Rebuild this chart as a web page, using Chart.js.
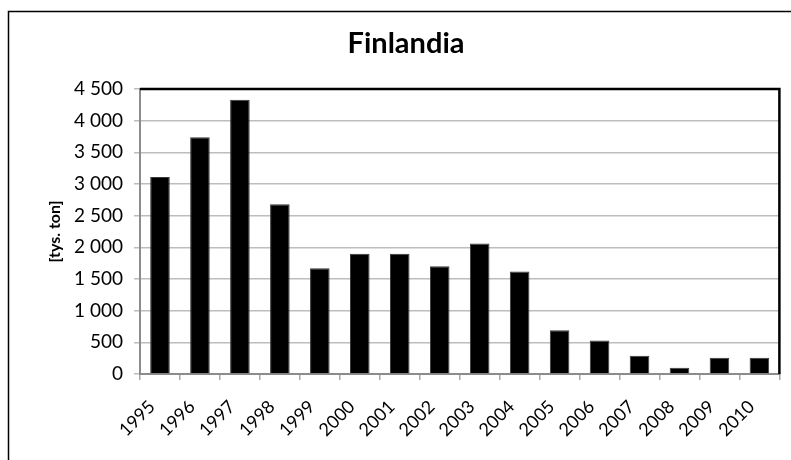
<!DOCTYPE html>
<html lang="pl">
<head>
  <meta charset="UTF-8" />
  <title>Finlandia</title>
  <script src="https://cdn.jsdelivr.net/npm/chart.js"></script>
  <style>
    body { margin: 0; padding: 0; background: #fff; }
    #wrap { width: 791px; height: 460px; }
  </style>
</head>
<body>
  <div id="wrap"><canvas id="chart" width="791" height="460"></canvas></div>
  <script>
    const years = ['1995', '1996', '1997', '1998', '1999', '2000', '2001', '2002',
                   '2003', '2004', '2005', '2006', '2007', '2008', '2009', '2010'];
    const values = [3110, 3740, 4330, 2680, 1670, 1900, 1900, 1700,
                    2060, 1620, 690, 530, 290, 100, 255, 255];
    const yMin = 0, yMax = 4500, yStep = 500;
    const chartTitle = 'Finlandia';
    const yTitle = '[tys. ton]';

    const FONT = "Lato, 'Liberation Sans', sans-serif";

    // frame, title and the black plot border
    const decor = {
      id: 'decor',
      beforeDraw(chart) {
        const ctx = chart.ctx;
        ctx.save();
        ctx.fillStyle = '#fff';
        ctx.fillRect(0, 0, chart.width, chart.height);
        ctx.strokeStyle = '#000';
        ctx.lineWidth = 1.5;
        ctx.beginPath();
        ctx.moveTo(8.5, chart.height + 2);
        ctx.lineTo(8.5, 11.5);
        ctx.lineTo(chart.width + 2, 11.5);
        ctx.stroke();
        ctx.fillStyle = '#000';
        ctx.font = 'bold 29px ' + FONT;
        ctx.textAlign = 'center';
        ctx.textBaseline = 'alphabetic';
        ctx.fillText(chartTitle, 406, 53);
        ctx.restore();
      },
      afterDraw(chart) {
        const a = chart.chartArea, ctx = chart.ctx;
        ctx.save();
        ctx.strokeStyle = '#000';
        ctx.lineWidth = 2.5;
        ctx.beginPath();
        ctx.moveTo(a.left, a.top);
        ctx.lineTo(a.right, a.top);
        ctx.lineTo(a.right, a.bottom);
        ctx.stroke();
        ctx.restore();
      }
    };

    new Chart(document.getElementById('chart'), {
      type: 'bar',
      data: {
        labels: years,
        datasets: [{
          data: values,
          backgroundColor: '#000',
          borderColor: '#3a3a3a',
          borderWidth: 1,
          barPercentage: 0.49,
          categoryPercentage: 1
        }]
      },
      options: {
        responsive: false,
        animation: false,
        layout: { padding: { left: 45, top: 89, right: 10, bottom: 0 } },
        plugins: { legend: { display: false }, tooltip: { enabled: false } },
        scales: {
          x: {
            afterFit: s => { s.height = 86; },
            grid: {
              offset: true,
              drawOnChartArea: false,
              color: '#a6a6a6',
              tickLength: 6,
              lineWidth: 1.5
            },
            border: { color: '#8c8c8c', width: 2 },
            ticks: {
              minRotation: 45,
              maxRotation: 45,
              padding: 16,
              labelOffset: -8,
              color: '#000',
              font: { family: FONT, size: 18 }
            }
          },
          y: {
            min: yMin,
            max: yMax,
            afterFit: s => { s.width = 95; },
            grid: { color: '#bdbdbd', lineWidth: 1.5, tickLength: 6 },
            border: { color: '#8c8c8c', width: 2 },
            ticks: {
              stepSize: yStep,
              padding: 11,
              color: '#000',
              font: { family: FONT, size: 19 },
              callback: v => String(v).replace(/\B(?=(\d{3})+(?!\d))/g, ' ')
            },
            title: {
              display: true,
              text: yTitle,
              color: '#000',
              padding: { top: 0, bottom: 0 },
              font: { family: FONT, size: 16, weight: 'bold' }
            }
          }
        }
      },
      plugins: [decor]
    });
  </script>
</body>
</html>
